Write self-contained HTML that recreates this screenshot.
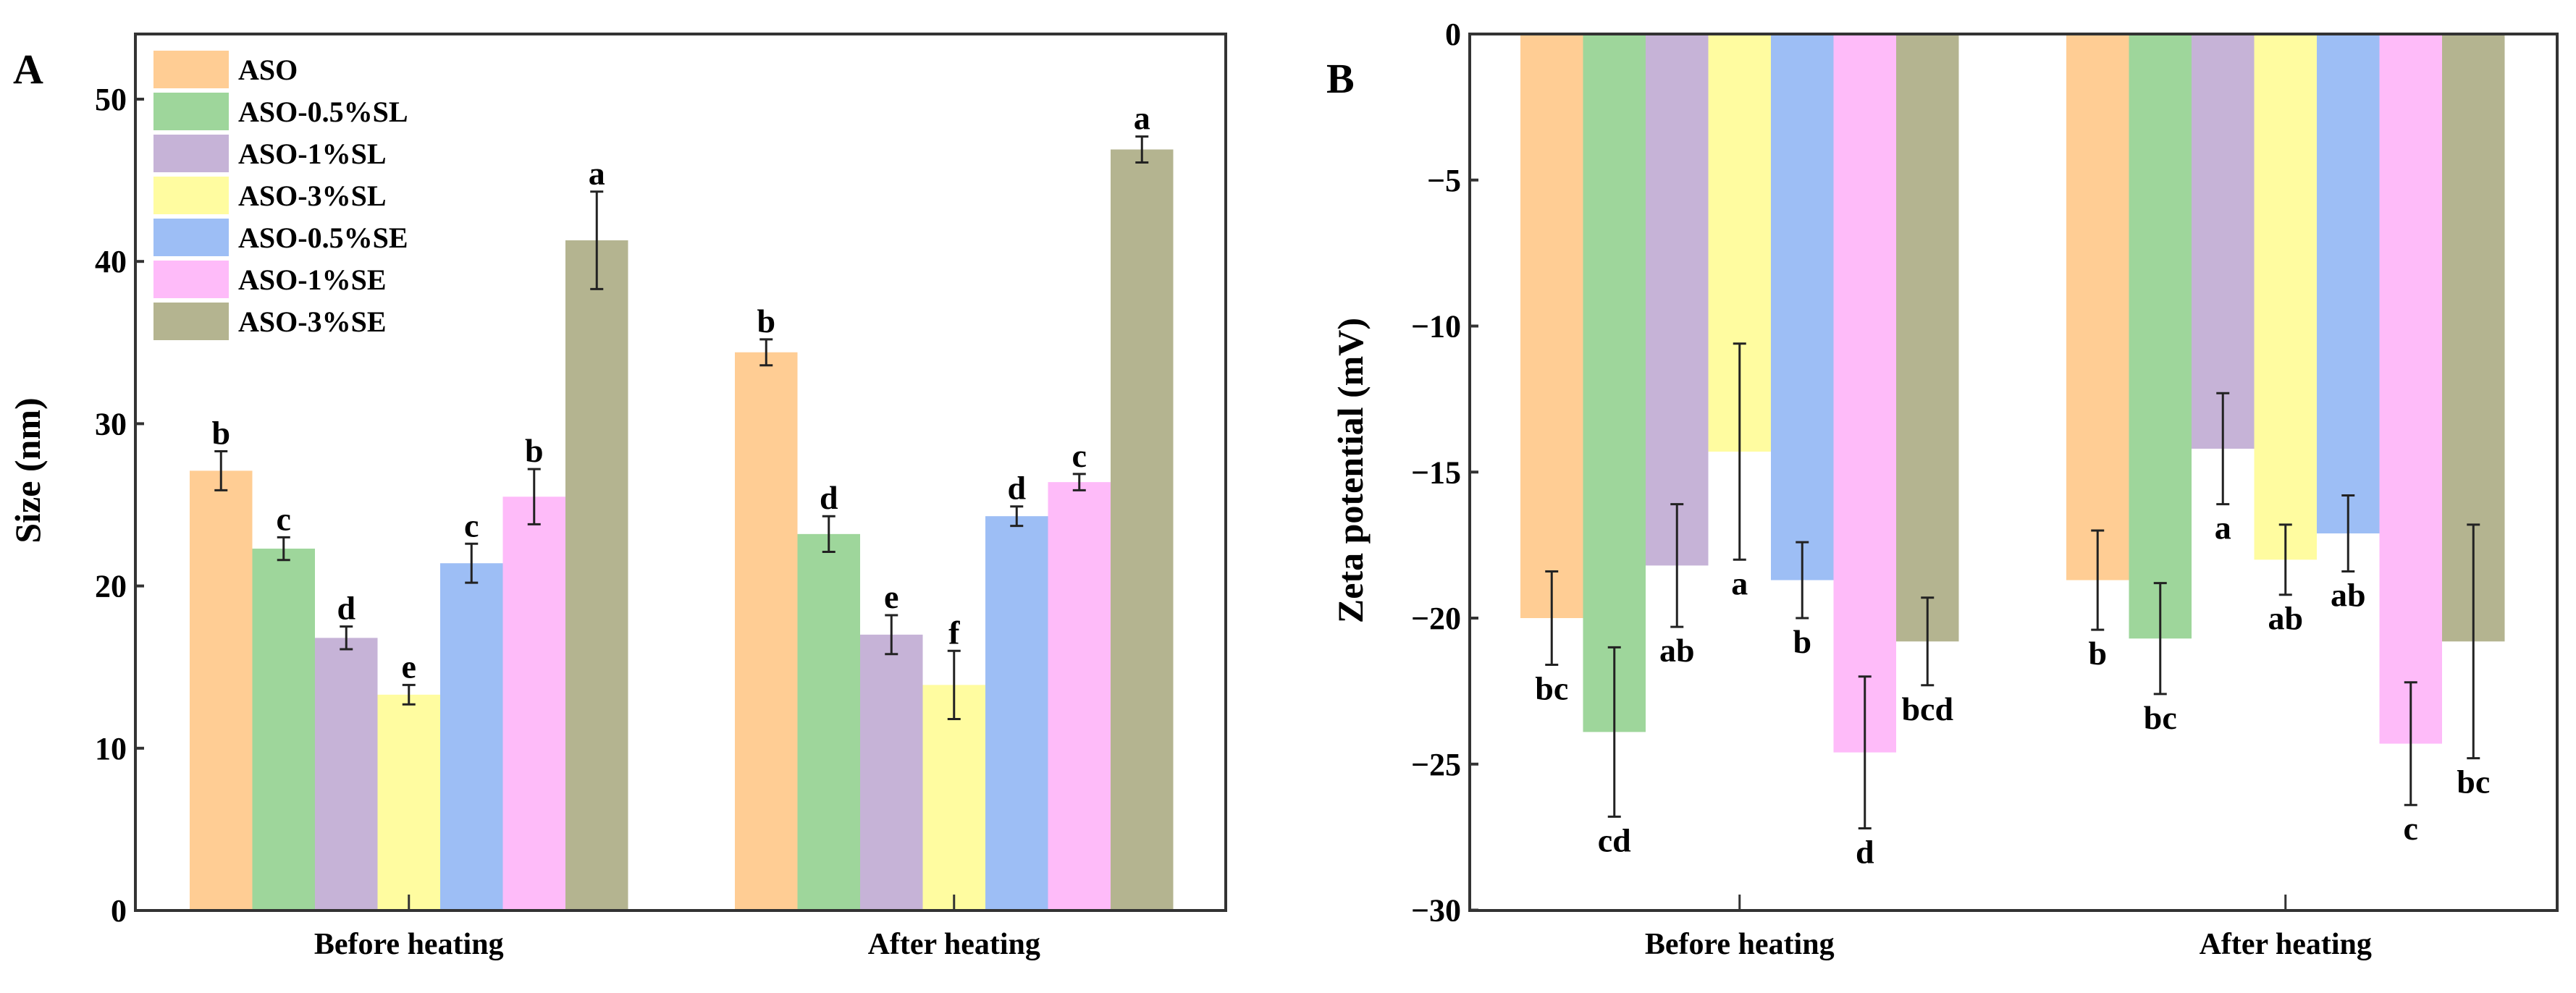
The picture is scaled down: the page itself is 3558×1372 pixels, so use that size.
<!DOCTYPE html>
<html><head><meta charset="utf-8"><style>
body{margin:0;background:#fff;}
svg text{font-family:"Liberation Serif",serif;font-weight:bold;fill:#000;}
</style></head><body>
<svg id="fig" width="3558" height="1367" viewBox="0 0 3558 1367" xmlns="http://www.w3.org/2000/svg"></svg>
<script>
const groups = ["Before heating", "After heating"];
const seriesNames = ["ASO","ASO-0.5%SL","ASO-1%SL","ASO-3%SL","ASO-0.5%SE","ASO-1%SE","ASO-3%SE"];
const colors = ["#FFCD94","#9ED69B","#C6B3D7","#FFFCA0","#9DBEF5","#FEBBF9","#B4B490"];
const sizeBefore = [27.1,22.3,16.8,13.3,21.4,25.5,41.3];
const sizeBeforeErr = [1.2,0.7,0.7,0.6,1.2,1.7,3.0];
const sizeAfter = [34.4,23.2,17.0,13.9,24.3,26.4,46.9];
const sizeAfterErr = [0.8,1.1,1.2,2.1,0.6,0.5,0.8];
const sizeLetBefore = ["b","c","d","e","c","b","a"];
const sizeLetAfter = ["b","d","e","f","d","c","a"];
const sizeTicks = [0,10,20,30,40,50];
const zetaBefore = [-20.0,-23.9,-18.2,-14.3,-18.7,-24.6,-20.8];
const zetaBeforeErr = [1.6,2.9,2.1,3.7,1.3,2.6,1.5];
const zetaAfter = [-18.7,-20.7,-14.2,-18.0,-17.1,-24.3,-20.8];
const zetaAfterErr = [1.7,1.9,1.9,1.2,1.3,2.1,4.0];
const zetaLetBefore = ["bc","cd","ab","a","b","d","bcd"];
const zetaLetAfter = ["b","bc","a","ab","ab","c","bc"];
const zetaTicks = [0,-5,-10,-15,-20,-25,-30];

const svg = document.getElementById('fig');
const NS = "http://www.w3.org/2000/svg";
function mk(tag, attrs, parent){const e=document.createElementNS(NS,tag);for(const k in attrs)e.setAttribute(k,attrs[k]);(parent||svg).appendChild(e);return e;}
function txt(s, attrs, parent){const e=mk('text',attrs,parent);e.textContent=s;return e;}

function panel(cfg){
  const g = mk('g',{});
  
  
  const L=cfg.left,R=cfg.right,T=47,B=1258;
  const y = v => cfg.y0 + (v - cfg.v0) * cfg.k;
  const groupStarts = cfg.groupStarts, bw = 86.5;
  const datasets = [[cfg.before,cfg.beforeErr,cfg.letB],[cfg.after,cfg.afterErr,cfg.letA]];
  datasets.forEach((ds,gi)=>{
    ds[0].forEach((v,i)=>{
      const x = groupStarts[gi] + i*bw;
      const y1 = y(v), yb = y(cfg.base);
      const r = mk('rect',{x:x,y:Math.min(y1,yb),width:bw,height:Math.abs(yb-y1),fill:colors[i]},g);
      
      
      const cx = x + bw/2, e = ds[1][i];
      const yt = y(v+e), ybt = y(v-e);
      const eb = mk('path',{d:`M${cx},${yt}V${ybt}M${cx-9},${yt}H${cx+9}M${cx-9},${ybt}H${cx+9}`,stroke:'#222','stroke-width':3,fill:'none'},g);
      
      
      const ly = cfg.neg ? Math.max(yt,ybt)+48 : Math.min(yt,ybt)-10;
      const lt = txt(ds[2][i],{x:cx,y:ly,'font-size':46,'text-anchor':'middle'},g);
      
      
    });
    const gc = groupStarts[gi] + 3.5*bw;
    const xl = txt(groups[gi],{x:gc,y:1318,'font-size':42,'text-anchor':'middle'},g);
    
    
    mk('line',{x1:gc,x2:gc,y1:B,y2:B-22,stroke:'#333','stroke-width':3},g);
  });
  const fr = mk('rect',{x:L,y:T,width:R-L,height:B-T,fill:'none',stroke:'#333','stroke-width':4},g);
  
  
  cfg.ticks.forEach(t=>{
    const ty=y(t);
    mk('line',{x1:L,x2:L+12,y1:ty,y2:ty,stroke:'#333','stroke-width':4},g);
    const tl = txt(String(t).replace('-','\u2212'),{x:L-12,y:ty+15,'font-size':44,'text-anchor':'end'},g);
    
    
  });
  const yt = txt(cfg.ytitle,{x:0,y:0,'font-size':50,'text-anchor':'middle',transform:`translate(${cfg.ytx},650) rotate(-90)`},g);
  
  
  const pl = txt(cfg.label,{x:cfg.lx,y:cfg.ly,'font-size':58},g);
  
  
  return g;
}

panel({name:'panel-a-size',left:187,right:1693,y0:1258,v0:0,k:-22.42,base:0,neg:false,
  groupStarts:[262,1015],before:sizeBefore,beforeErr:sizeBeforeErr,after:sizeAfter,afterErr:sizeAfterErr,
  letB:sizeLetBefore,letA:sizeLetAfter,ticks:sizeTicks,ytitle:'Size (nm)',ytx:55,label:'A',lx:18,ly:115});
panel({name:'panel-b-zeta',left:2030,right:3532,y0:47,v0:0,k:-40.35,base:0,neg:true,
  groupStarts:[2100,2854],before:zetaBefore,beforeErr:zetaBeforeErr,after:zetaAfter,afterErr:zetaAfterErr,
  letB:zetaLetBefore,letA:zetaLetAfter,ticks:zetaTicks,ytitle:'Zeta potential (mV)',ytx:1882,label:'B',lx:1832,ly:128});

const lg = mk('g',{});


seriesNames.forEach((n,i)=>{
  const yy = 70 + i*58;
  const sw = mk('rect',{x:212,y:yy,width:104,height:52,fill:colors[i]},lg);
  
  
  const t = txt(n,{x:329,y:yy+40,'font-size':40},lg);
  
  
});
</script>
</body></html>
